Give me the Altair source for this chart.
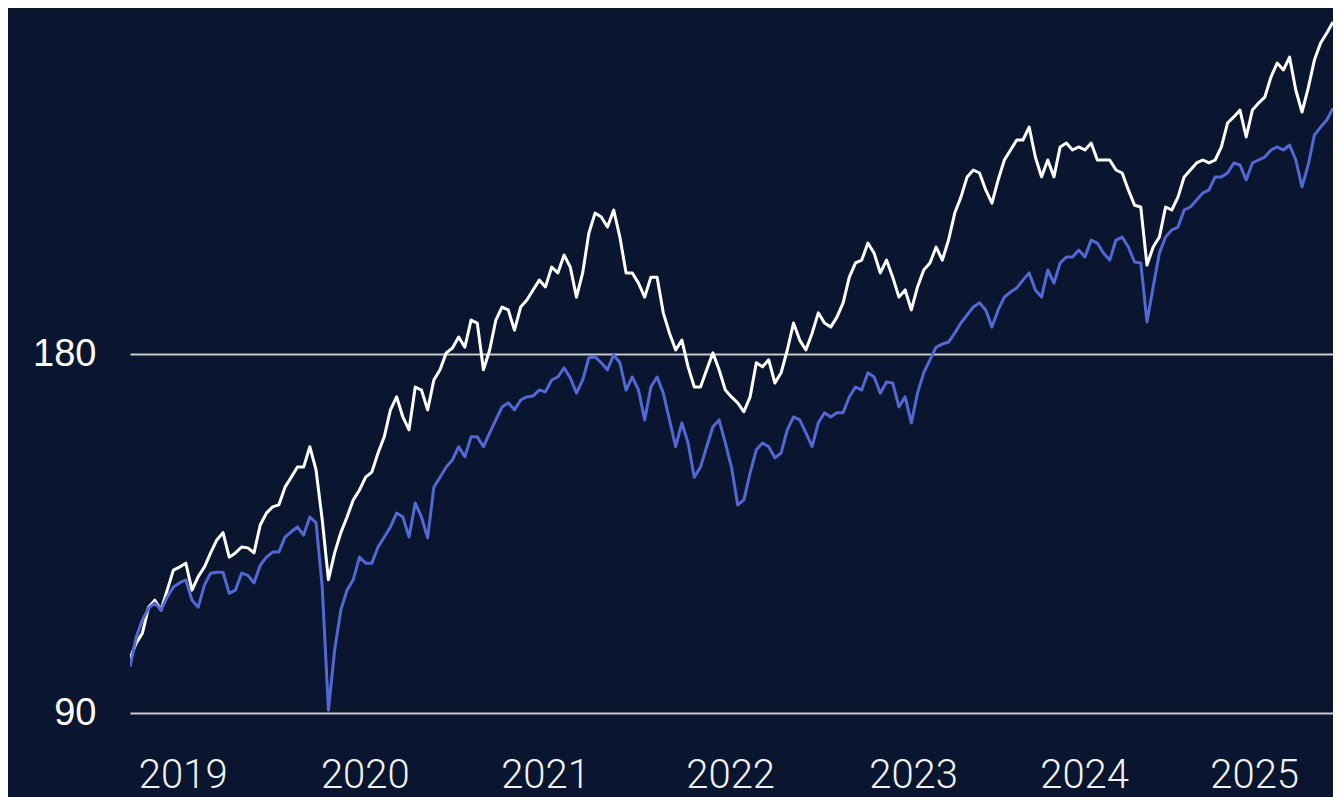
import altair as alt
import pandas as pd

# ---- data (index level, rebased ~100 at start) ----
start_date = "2019-01-04"
step_days = 14

white = [
    100.0, 103.0, 105.0, 110.4, 111.9, 109.8, 114.1, 118.6, 119.3, 120.2,
    114.1, 117.1, 119.3, 122.6, 125.7, 127.5, 121.6, 122.6, 124.0, 123.8,
    122.6, 129.4, 132.4, 134.0, 134.5, 139.2, 141.9, 144.7, 144.7, 150.5,
    143.9, 130.7, 116.4, 122.6, 127.5, 131.4, 135.8, 138.4, 141.9, 143.3,
    148.7, 153.4, 161.6, 165.7, 159.4, 155.5, 168.9, 167.9, 161.6, 171.2,
    174.6, 180.4, 182.1, 186.0, 182.4, 192.2, 191.1, 174.6, 181.4, 192.2,
    197.1, 196.0, 188.5, 197.1, 199.8, 203.7, 207.6, 204.9, 212.9, 210.5,
    217.9, 212.9, 200.9, 210.5, 227.4, 236.3, 234.5, 230.0, 237.7, 225.6,
    210.5, 210.5, 206.4, 200.9, 208.8, 208.8, 194.9, 187.4, 181.4, 184.9,
    175.6, 168.9, 168.9, 174.6, 180.4, 174.6, 167.9, 165.7, 163.8, 161.0,
    165.7, 177.0, 175.6, 178.0, 170.2, 173.6, 181.4, 191.1, 184.9, 181.4,
    187.4, 194.9, 191.1, 189.6, 193.3, 198.7, 208.8, 214.6, 215.8, 223.0,
    218.7, 210.5, 215.8, 208.8, 200.9, 203.7, 196.0, 204.9, 211.7, 214.6,
    221.3, 215.8, 224.3, 236.3, 243.7, 253.4, 256.8, 255.3, 247.1, 240.9,
    251.9, 261.8, 266.9, 272.1, 272.1, 279.0, 263.3, 253.4, 261.8, 253.4,
    268.5, 270.5, 266.9, 268.5, 266.9, 270.5, 261.8, 261.8, 261.8, 256.8,
    255.3, 247.1, 239.9, 239.1, 213.7, 221.3, 225.6, 239.1, 237.7, 243.7,
    253.4, 256.8, 260.3, 261.8, 260.3, 261.8, 268.5, 281.2, 284.5, 288.3,
    273.7, 288.3, 292.2, 295.6, 307.3, 315.7, 311.5, 319.3, 299.7, 287.2,
    300.8, 317.5, 328.1, 334.6, 341.7,
]

blue = [
    98.4, 104.2, 107.7, 110.2, 111.3, 109.8, 112.6, 114.8, 115.7, 116.4,
    111.9, 110.4, 115.2, 117.9, 118.1, 118.1, 113.4, 114.1, 117.9, 117.4,
    115.7, 119.7, 121.6, 122.8, 122.8, 126.4, 127.7, 128.9, 126.9, 131.4,
    130.0, 114.8, 90.5, 101.6, 109.8, 114.1, 116.4, 121.6, 120.2, 120.2,
    124.0, 126.4, 128.9, 132.4, 131.4, 126.4, 135.0, 131.4, 126.2, 139.2,
    141.9, 144.7, 146.7, 150.5, 147.6, 153.4, 153.4, 150.5, 154.6, 158.5,
    162.5, 163.8, 161.6, 164.7, 165.7, 166.0, 167.9, 167.3, 171.2, 172.2,
    175.3, 171.9, 166.9, 171.2, 178.7, 179.0, 177.0, 174.6, 179.7, 177.0,
    167.9, 172.2, 167.9, 158.5, 168.9, 172.2, 166.9, 158.5, 150.5, 157.6,
    151.6, 141.9, 144.7, 150.5, 156.4, 158.5, 151.6, 144.7, 134.5, 135.8,
    143.1, 149.6, 151.6, 150.5, 147.3, 148.7, 155.5, 159.4, 158.5, 154.6,
    150.5, 157.6, 160.7, 159.4, 160.7, 160.7, 165.7, 168.9, 167.9, 173.6,
    172.2, 166.9, 170.5, 170.2, 162.5, 165.7, 157.6, 166.9, 173.6, 178.0,
    182.4, 183.5, 184.2, 187.4, 191.1, 194.1, 197.1, 198.7, 196.0, 189.6,
    196.0, 200.9, 202.9, 204.5, 207.6, 210.5, 203.7, 200.9, 211.7, 206.4,
    214.6, 217.1, 217.1, 220.0, 217.1, 224.3, 223.0, 218.7, 215.8, 224.3,
    225.6, 221.3, 215.0, 214.6, 191.5, 204.9, 218.7, 225.6, 228.7, 230.0,
    237.7, 239.1, 242.3, 245.6, 247.1, 253.4, 253.4, 255.3, 260.3, 259.3,
    251.9, 260.3, 261.8, 263.3, 266.9, 268.5, 266.9, 269.5, 261.8, 248.6,
    259.3, 274.7, 279.0, 282.8, 289.4,
]

year_labels = ["2019", "2020", "2021", "2022", "2023", "2024", "2025"]
year_label_dates = ["2019-05-03", "2020-06-17", "2021-07-29", "2022-09-20",
                    "2023-11-07", "2024-11-27", "2025-12-16"]
y_ticks = [90, 180]
y_domain = [90, 348.4]

# ---- build tables ----
n = len(white)
dates = pd.date_range(start_date, periods=n, freq=f"{step_days}D")
df_white = pd.DataFrame({"date": dates, "value": white})
df_blue = pd.DataFrame({"date": dates, "value": blue})


def dt(s):
    d = pd.Timestamp(s)
    return alt.DateTime(year=d.year, month=d.month, date=d.day)


x_domain = [dt(dates[0]), dt(dates[-1])]

x_enc = alt.X(
    "date:T",
    scale=alt.Scale(domain=x_domain),
    axis=alt.Axis(
        values=[dt(d) for d in year_label_dates],
        format="%Y",
        title=None,
        grid=False,
        domain=False,
        ticks=False,
        tickSize=0,
        labelFont="Roboto",
        labelFontWeight=300,
        labelFontSize=40,
        labelColor="#f2f2f2",
        labelPadding=74,
        labelBaseline="alphabetic",
        labelFlush=False,
        labelOverlap=False,
    ),
)

y_enc = alt.Y(
    "value:Q",
    scale=alt.Scale(type="log", domain=y_domain, nice=False, zero=False),
    axis=alt.Axis(
        values=y_ticks,
        format="d",
        title=None,
        grid=True,
        gridColor="#c9c9c9",
        gridWidth=2,
        domain=False,
        ticks=False,
        tickSize=0,
        labelFont="Liberation Sans",
        labelFontSize=38,
        labelColor="#ffffff",
        labelPadding=34,
        labelOverlap=False,
    ),
)

line_white = alt.Chart(df_white).mark_line(
    color="#ffffff", strokeWidth=3, strokeJoin="round", clip=True
).encode(x=x_enc, y=y_enc)

line_blue = alt.Chart(df_blue).mark_line(
    color="#5268d4", strokeWidth=3, strokeJoin="round", clip=True
).encode(x=x_enc, y=y_enc)

chart = (
    alt.layer(line_white, line_blue)
    .properties(
        width=1203,
        height=701,
        autosize=alt.AutoSizeParams(type="none"),
        padding={"left": 122, "top": 4, "right": 0, "bottom": 84},
        background="#0a1530",
    )
    .configure_view(stroke=None)
)

chart.save("out.html", embed_options={"renderer": "svg", "actions": False})
